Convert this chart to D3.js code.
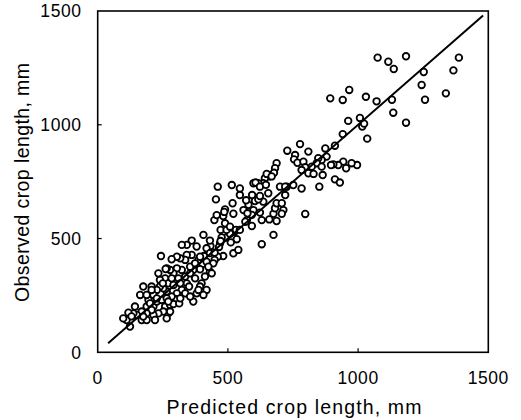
<!DOCTYPE html>
<html>
<head>
<meta charset="utf-8">
<script src="https://cdn.jsdelivr.net/npm/d3@7"></script>
<style>
  html, body { margin: 0; padding: 0; background: #fff; }
  svg { display: block; }
  text { font-family: "Liberation Sans", Arial, sans-serif; fill: #000; }
</style>
</head>
<body>
<svg id="chart" width="521" height="420"></svg>
<script>
// ---- Data ----
const xTicks = [0, 500, 1000, 1500];
const yTicks = [0, 500, 1000, 1500];
const xLabel = "Predicted crop length, mm";
const yLabel = "Observed crop length, mm";
const lineStart = [40, 40];
const lineEnd = [1480, 1480];

const predicted = [
  1075,1116,1137,1184,1387,1366,1252,1244,1257,1337,1130,1135,1184,1071,1030,966,941,893,1007,962,1016,1023,1035,941,
  996,975,954,943,924,905,896,911,930,874,911,879,860,847,841,860,822,864,851,809,777,728,758,754,767,790,797,783,809,829,783,797,751,726,
  687,681,677,659,642,636,617,598,606,655,623,593,636,579,598,623,560,592,573,592,630,659,675,681,687,707,720,700,720,713,707,687,675,630,
  461,515,546,546,518,521,489,482,448,457,472,489,508,525,534,511,521,540,493,508,476,470,482,461,449,433,431,406,418,408,431,403,387,380,361,342,323,361,342,393,399,367,374,355,336,317,304,284,323,304,291,278,265,259,271,291,310,336,342,323,304,301,336,351,265,252,239,239,243,261,227,214,207,195,188,214,227,246,259,271,265,278,252,233,214,207,188,169,163,188,175,207,143,150,137,118,111,124,98,169,188,220,130,278,291,313,317,284,367,355,380,393,418,406,387,438,412,418,444,431,449,466,472,495,508,531,546,567,575,570,604,617,623,649,668,646,454,486,
  233,250,284,317,227,265,201,175,271,374,393,425,355
];
const observed = [
  1295,1277,1245,1301,1295,1239,1232,1175,1110,1138,1110,1053,1009,1103,1123,1153,1109,1116,1030,1017,992,1005,939,959,
  823,831,809,838,823,826,823,760,746,896,908,860,845,853,831,816,816,779,728,882,915,886,867,848,833,838,813,801,787,784,720,608,735,728,
  831,809,789,773,765,743,743,743,746,699,728,691,662,648,625,614,625,604,581,555,581,584,609,633,655,655,691,728,728,625,609,577,516,475,
  728,735,720,691,655,609,628,599,581,603,538,567,534,530,497,483,435,450,504,521,505,479,423,420,406,467,491,516,457,423,354,388,406,465,491,472,472,428,428,365,303,362,325,376,406,413,420,409,362,369,347,362,369,325,303,296,325,333,303,274,259,233,259,289,267,281,289,318,423,366,274,252,289,230,201,201,223,230,201,171,149,179,179,171,164,186,171,179,252,252,289,274,201,164,171,174,142,113,149,142,142,142,158,208,212,215,237,245,223,245,259,289,274,252,274,347,333,398,391,436,438,463,489,538,552,538,538,574,611,668,665,672,687,784,773,736,672,617,
  347,303,325,303,237,237,215,157,223,391,420,376,347
];

// ---- Layout ----
const svg = d3.select("#chart");
const plotLeft = 97.7, plotRight = 488.3, plotTop = 11, plotBottom = 352.3;
const x = d3.scaleLinear().domain([0, 1500]).range([plotLeft, plotRight]);
const y = d3.scaleLinear().domain([0, 1500]).range([plotBottom, plotTop]);

// inward ticks
const tickLen = 4;
svg.append("g").selectAll("line").data(xTicks.filter(d => d > 0 && d < 1500)).join("line")
  .attr("x1", d => x(d)).attr("x2", d => x(d))
  .attr("y1", plotBottom).attr("y2", plotBottom - tickLen)
  .attr("stroke", "#000").attr("stroke-width", 1.2);
svg.append("g").selectAll("line").data(yTicks.filter(d => d > 0 && d < 1500)).join("line")
  .attr("x1", plotLeft).attr("x2", plotLeft + tickLen)
  .attr("y1", d => y(d)).attr("y2", d => y(d))
  .attr("stroke", "#000").attr("stroke-width", 1.2);

// tick labels
svg.append("g").selectAll("text").data(xTicks).join("text")
  .attr("x", d => x(d)).attr("y", 383.5)
  .attr("text-anchor", "middle")
  .style("font-size", "17.5px")
  .style("letter-spacing", "0.6px")
  .text(d => d);
svg.append("g").selectAll("text").data(yTicks).join("text")
  .attr("x", 81.7).attr("y", d => y(d) + 6.3)
  .attr("text-anchor", "end")
  .style("font-size", "17.5px")
  .style("letter-spacing", "0.6px")
  .text(d => d);

// points
const n = Math.min(predicted.length, observed.length);
const pts = d3.range(n).map(i => [predicted[i], observed[i]]);
svg.append("g").selectAll("circle").data(pts).join("circle")
  .attr("cx", d => x(d[0])).attr("cy", d => y(d[1]))
  .attr("r", 3.3)
  .attr("fill", "#fff")
  .attr("stroke", "#000")
  .attr("stroke-width", 1.8);

// 1:1 line
svg.append("line")
  .attr("x1", x(lineStart[0])).attr("y1", y(lineStart[1]))
  .attr("x2", x(lineEnd[0])).attr("y2", y(lineEnd[1]))
  .attr("stroke", "#000").attr("stroke-width", 2);

// frame
svg.append("rect")
  .attr("x", plotLeft).attr("y", plotTop)
  .attr("width", plotRight - plotLeft).attr("height", plotBottom - plotTop)
  .attr("fill", "none").attr("stroke", "#000").attr("stroke-width", 1.6);

// axis titles
svg.append("text")
  .attr("x", 294).attr("y", 414.3)
  .attr("text-anchor", "middle")
  .style("font-size", "19.5px")
  .attr("textLength", 255).attr("lengthAdjust", "spacing")
  .text(xLabel);
svg.append("text")
  .attr("transform", "translate(29.3,182.5) rotate(-90)")
  .attr("text-anchor", "middle")
  .style("font-size", "19.5px")
  .attr("textLength", 239).attr("lengthAdjust", "spacing")
  .text(yLabel);
</script>
</body>
</html>
